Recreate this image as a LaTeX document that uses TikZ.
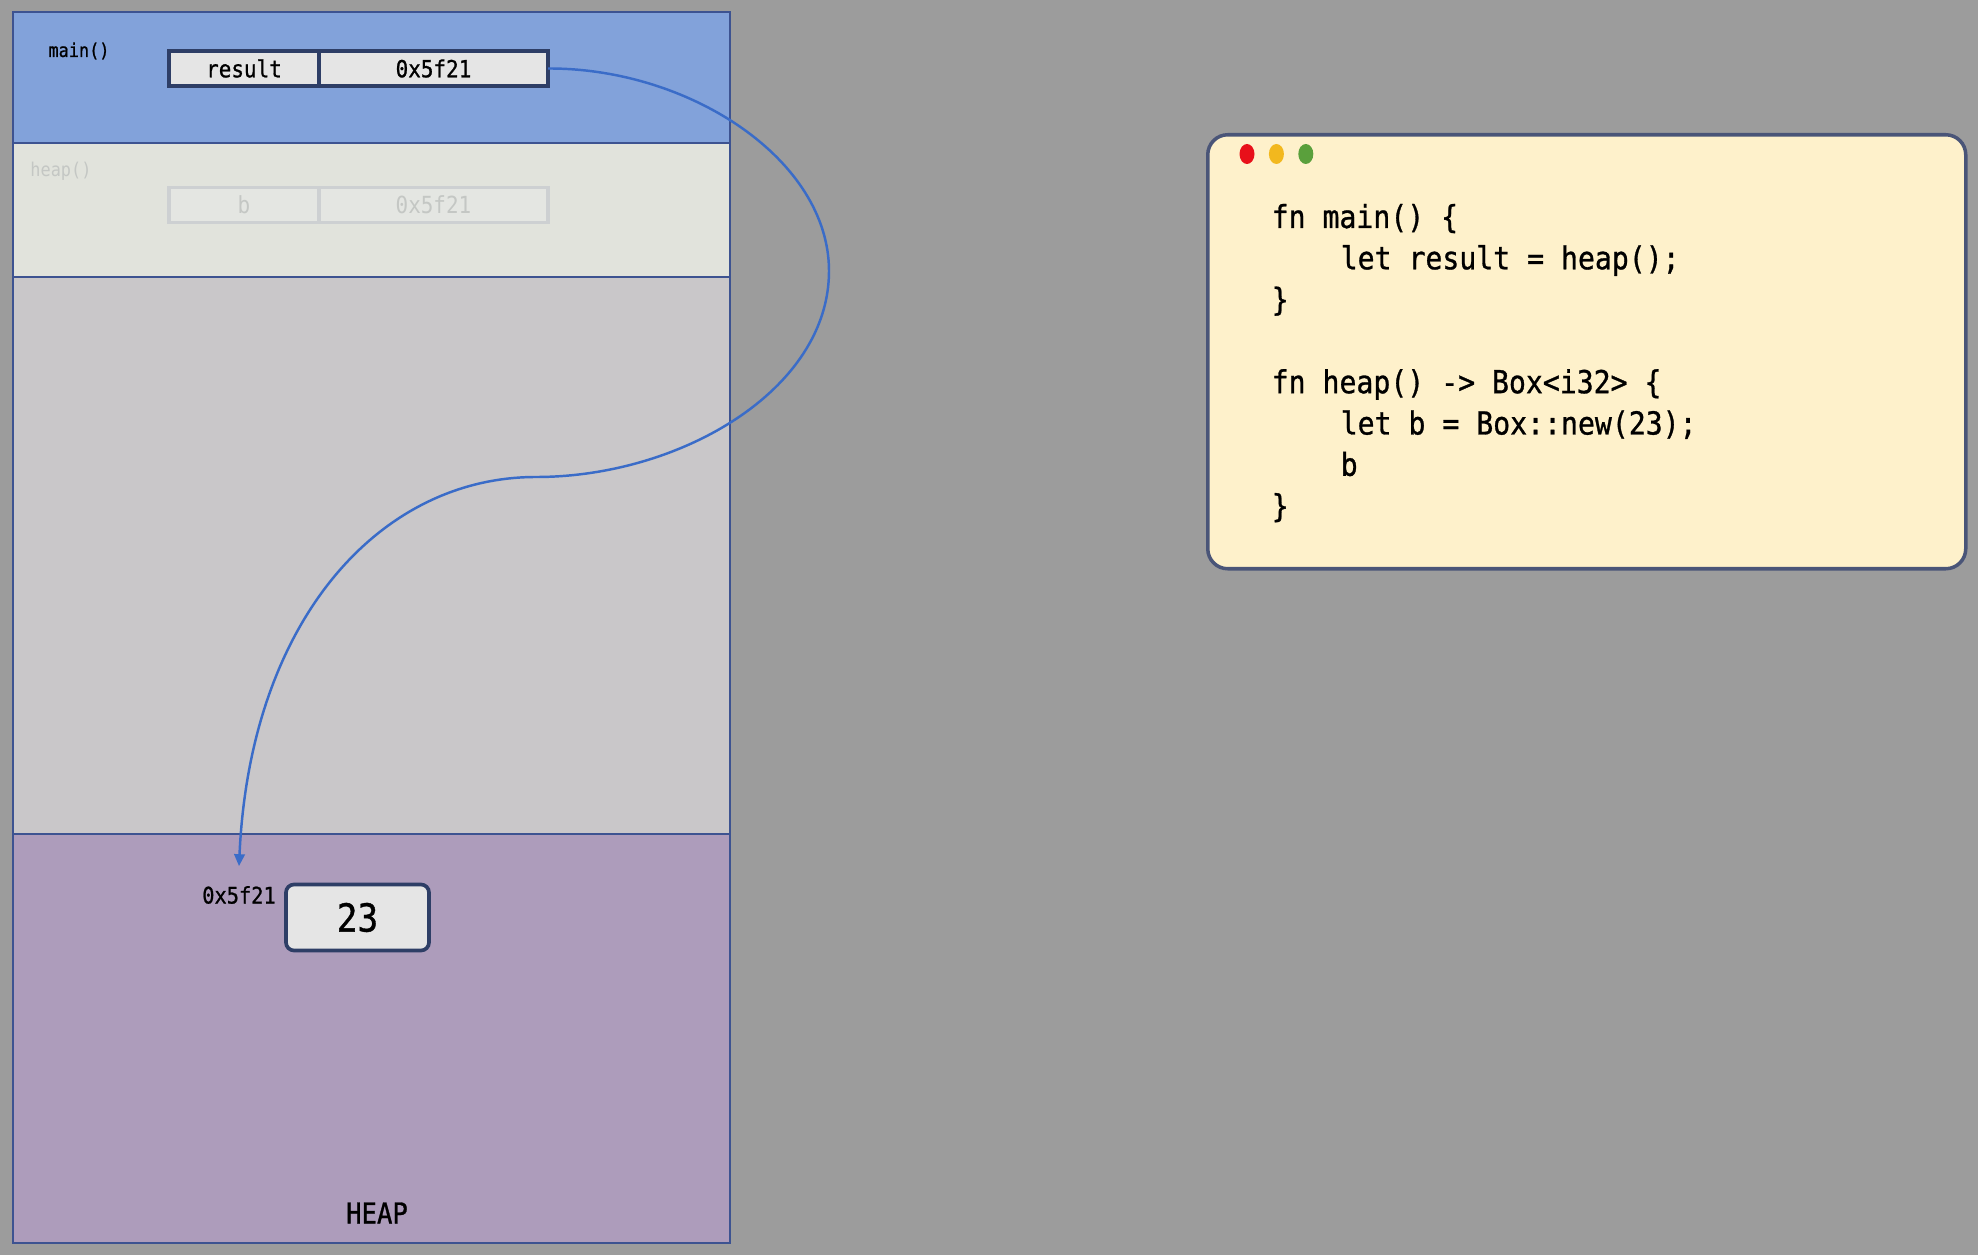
\documentclass[tikz,border=0pt]{standalone}
\usepackage{fontspec}
\newfontfamily\codefont[FakeStretch=0.89, FakeBold=0.9]{DejaVu Sans Mono}
\newfontfamily\thinfont[FakeStretch=0.89]{DejaVu Sans Mono}
\usepackage{tikz}
\usetikzlibrary{positioning,arrows.meta,shapes.geometric}
\definecolor{bgcol}{HTML}{9C9C9C}
\definecolor{framecol}{HTML}{3D5391}
\definecolor{maincol}{HTML}{82A2DA}
\definecolor{oldcol}{HTML}{E1E3DC}
\definecolor{freecol}{HTML}{C9C7C9}
\definecolor{heapcol}{HTML}{AD9CBB}
\definecolor{cellfill}{HTML}{E5E5E5}
\definecolor{cellline}{HTML}{2E3E66}
\definecolor{ghostfill}{HTML}{E4E6E2}
\definecolor{ghostline}{HTML}{CDD0D2}
\definecolor{ghosttext}{HTML}{C4C7C4}
\definecolor{codefill}{HTML}{FEF1CB}
\definecolor{codeline}{HTML}{4A5578}
\definecolor{ptrcol}{HTML}{3A6CC8}
\definecolor{lightred}{HTML}{E8101A}
\definecolor{lightyellow}{HTML}{F2B81E}
\definecolor{lightgreen}{HTML}{5AA03C}
\tikzset{
  frame/.style    = {draw=framecol, line width=0.7pt, inner sep=0pt,
                     outer sep=0pt, minimum width=71.7mm},
  cell/.style     = {draw=cellline, fill=cellfill, line width=1.05pt,
                     inner sep=0pt, outer sep=0pt, minimum height=3.5mm,
                     font=\codefont\fontsize{6.7}{7}\selectfont},
  ghost/.style    = {cell, draw=ghostline, fill=ghostfill, text=ghosttext,
                     font=\thinfont\fontsize{6.7}{7}\selectfont},
  fnlabel/.style  = {inner sep=0pt, font=\codefont\fontsize{5.4}{6}\selectfont},
  codebox/.style  = {draw=codeline, fill=codefill, line width=1pt,
                     rounded corners=2mm, inner sep=0pt},
  light/.style    = {ellipse, inner sep=0pt, minimum width=1.5mm,
                     minimum height=2mm},
  codetext/.style = {anchor=base west, inner sep=0pt,
                     font=\codefont\fontsize{9}{10}\selectfont},
  ptr/.style      = {draw=ptrcol, line width=0.7pt,
                     -{Triangle[length=3.4pt,width=3pt]}}
}
\begin{document}
\begin{tikzpicture}[x=0.1mm, y=-0.1mm]
  \fill[bgcol] (0,0) rectangle (1978,1255);
  \useasboundingbox (0,0) rectangle (1978,1255);

  % stack and heap
  \node [frame, fill=maincol, minimum height=13.1mm, anchor=north west]
    (mainframe) at (13,12) {};
  \node [frame, fill=oldcol, minimum height=13.4mm, below=0pt of mainframe]
    (heapframe) {};
  \node [frame, fill=freecol, minimum height=55.7mm, below=0pt of heapframe]
    (free) {};
  \node [frame, fill=heapcol, minimum height=40.9mm, below=0pt of free]
    (heaparea) {};

  \node [fnlabel] (mainlabel) at (79,51) {main()};
  \node [fnlabel, font=\thinfont\fontsize{5.4}{6}\selectfont, text=ghosttext]
    (heaplabel) at (61,171) {heap()};

  \node [cell, minimum width=15mm] (resname) at (244,68.5) {result};
  \node [cell, minimum width=22.9mm, right=0pt of resname] (resval) {0x5f21};
  \node [ghost, minimum width=15mm] (bname) at (244,205) {b};
  \node [ghost, minimum width=22.9mm, right=0pt of bname] (bval) {0x5f21};

  \node [cell, rounded corners=0.8mm, minimum width=14.3mm, minimum height=6.6mm,
         font=\codefont\fontsize{11}{12}\selectfont] (boxval) at (357.5,917.5) {23};
  \node [inner sep=5.5pt, font=\codefont\fontsize{6.5}{7}\selectfont]
    (addr) at (239,895) {0x5f21};
  \node [inner sep=0pt, font=\codefont\fontsize{8.2}{9}\selectfont]
    (heapname) at (377,1213) {HEAP};

  \draw [ptr] (resval.east) .. controls (690,68) and (829,160) .. (829,271)
    .. controls (829,390) and (680,477) .. (536,477)
    .. controls (380,477) and (250,620) .. (addr.north);

  % source window
  \node [codebox, minimum width=75.8mm, minimum height=43.4mm, anchor=north west]
    (code) at (1206,133) {};
  \node [light, fill=lightred] (red) at (1247,154) {};
  \node [light, fill=lightyellow, right=1.3mm of red] (yellow) {};
  \node [light, fill=lightgreen, right=1.3mm of yellow] (green) {};

  \node [codetext] (l1) at (1271,228) {fn main() \{};
  \node [codetext] (l2) at (1340,269.3) {let result = heap();};
  \node [codetext] (l3) at (1271,310.6) {\}};
  \node [codetext] (l4) at (1271,393.2) {fn heap() -> Box<i32> \{};
  \node [codetext] (l5) at (1340,434.5) {let b = Box::new(23);};
  \node [codetext] (l6) at (1340,475.8) {b};
  \node [codetext] (l7) at (1271,517.1) {\}};
\end{tikzpicture}
\end{document}
